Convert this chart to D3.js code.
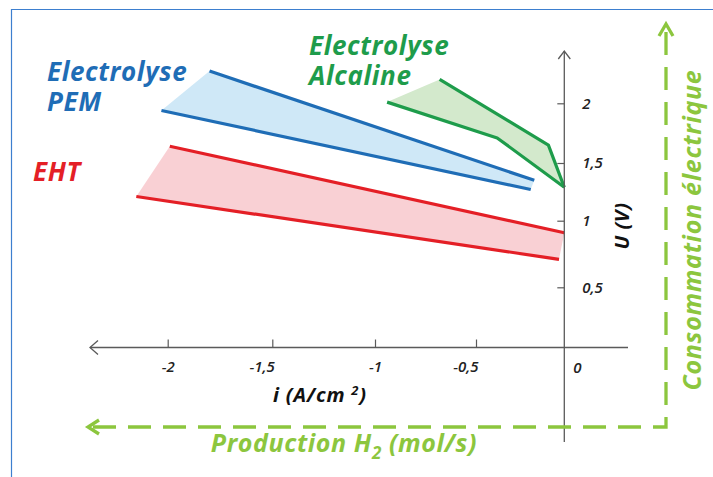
<!DOCTYPE html>
<html>
<head>
<meta charset="utf-8">
<script src="https://cdn.jsdelivr.net/npm/d3@7"></script>
<style>
  body { margin: 0; background: #fff; }
  svg text { font-family: "Open Sans", "DejaVu Sans", sans-serif; }
</style>
</head>
<body>
<svg id="chart" width="713" height="477"></svg>
<script>
// Axis ticks
const xTicks = [-2, -1.5, -1, -0.5];
const yTicks = [0.5, 1, 1.5, 2];

// Polarisation curves: [i (A/cm²), U (V)] — upper and lower bound of each technology
const pemUpper = [[-1.80, 2.27], [-0.17, 1.35]];
const pemLower = [[-2.03, 1.94], [-0.19, 1.27]];
const alcUpper = [[-0.68, 2.20], [-0.09, 1.65], [0, 1.29]];
const alcLower = [[-0.94, 2.01], [-0.38, 1.71], [0, 1.29]];
const ehtUpper = [[-1.99, 1.64], [0, 0.91]];
const ehtLower = [[-2.15, 1.21], [-0.03, 0.71]];

const techNames = ["Electrolyse PEM", "Electrolyse Alcaline", "EHT"];

const svg = d3.select("#chart");
const W = 713, H = 477;

// Hand-drawn axes are not evenly spaced: use piecewise linear scales through the ticks
const x = d3.scaleLinear()
  .domain([-2, -1.5, -1, -0.5, 0])
  .range([167.7, 272.3, 375, 476, 564.3]);
const y = d3.scaleLinear()
  .domain([0, 0.5, 1, 1.5, 2])
  .range([347.5, 287.3, 220.7, 163, 103.3]);

const x0 = x(0), y0 = y(0);
const fmt = d => String(d).replace(".", ",");

// Frame
svg.append("path")
  .attr("d", `M11.5,${H} L11.5,9.5 L${W},9.5`)
  .attr("fill", "none")
  .attr("stroke", "#3d7fcf")
  .attr("stroke-width", 1.2);

const line = d3.line().x(d => x(d[0])).y(d => y(d[1]));

function band(upper, lower, fill, stroke) {
  const poly = upper.concat(lower.slice().reverse());
  svg.append("path")
    .attr("d", line(poly) + "Z")
    .attr("fill", fill)
    .attr("stroke", "none");
  [upper, lower].forEach(s => {
    svg.append("path")
      .attr("d", line(s))
      .attr("fill", "none")
      .attr("stroke", stroke)
      .attr("stroke-width", 3.2)
      .attr("stroke-linejoin", "round");
  });
}

band(ehtUpper, ehtLower, "#f9d0d4", "#e41f26");
band(pemUpper, pemLower, "#cfe8f7", "#1f6db6");
band(alcUpper, alcLower, "#d3e9cc", "#1e9c4b");

// Axes
const axisColor = "#5a5a5a";
const gx = svg.append("g").attr("transform", `translate(0,${y0})`)
  .call(d3.axisBottom(x).tickValues(xTicks).tickSizeInner(-8).tickSizeOuter(0).tickPadding(14)
    .tickFormat(fmt));
gx.select(".domain").remove();
gx.selectAll("line").attr("stroke", axisColor).attr("stroke-width", 1.2);
gx.selectAll("text").attr("font-size", 15).attr("font-style", "italic").attr("font-weight", 600).attr("fill", "#222")
  // decimal labels sit to the left of their tick
  .attr("text-anchor", d => Number.isInteger(d) ? "middle" : "end")
  .attr("dx", d => Number.isInteger(d) ? 0 : 2);

const gy = svg.append("g").attr("transform", `translate(${x0},0)`)
  .call(d3.axisRight(y).tickValues(yTicks).tickSizeInner(-7).tickSizeOuter(0).tickPadding(18)
    .tickFormat(fmt));
gy.select(".domain").remove();
gy.selectAll("line").attr("stroke", axisColor).attr("stroke-width", 1.2);
gy.selectAll("text").attr("font-size", 15).attr("font-style", "italic").attr("font-weight", 600).attr("fill", "#222");

// Axis lines with open arrowheads
svg.append("line").attr("x1", 90).attr("x2", 628).attr("y1", y0).attr("y2", y0)
  .attr("stroke", axisColor).attr("stroke-width", 1.3);
svg.append("path").attr("d", `M98,${y0 - 7} L90,${y0} L98,${y0 + 7}`)
  .attr("fill", "none").attr("stroke", axisColor).attr("stroke-width", 1.3);
svg.append("line").attr("x1", x0).attr("x2", x0).attr("y1", 51).attr("y2", 442)
  .attr("stroke", axisColor).attr("stroke-width", 1.3);
svg.append("path").attr("d", `M${x0 - 6},${59} L${x0},${51} L${x0 + 6},${59}`)
  .attr("fill", "none").attr("stroke", axisColor).attr("stroke-width", 1.3);

svg.append("text").attr("x", x0 + 9).attr("y", y0 + 25)
  .attr("font-size", 15).attr("font-style", "italic").attr("font-weight", 600).attr("fill", "#222")
  .text("0");

// Axis titles
const it = svg.append("text").attr("x", 320).attr("y", 402).attr("text-anchor", "middle")
  .attr("font-size", 20).attr("letter-spacing", 0.8).attr("font-style", "italic").attr("font-weight", 700).attr("fill", "#111");
it.append("tspan").text("i (A/cm ");
it.append("tspan").attr("font-size", 13).attr("dy", -7).text("2");
it.append("tspan").attr("dy", 7).text(")");

svg.append("text").attr("transform", `translate(629,226) rotate(-90)`).attr("text-anchor", "middle")
  .attr("font-size", 20).attr("letter-spacing", 0.5).attr("font-style", "italic").attr("font-weight", 700).attr("fill", "#111")
  .text("U (V)");

// Green dashed production / consumption frame
const green = "#8cc63e";
svg.append("path")
  .attr("d", `M666,32 L666,427 L92,427`)
  .attr("fill", "none").attr("stroke", green).attr("stroke-width", 3.3)
  .attr("stroke-dasharray", "23,12");
svg.append("path").attr("d", `M659,36 L666,24 L673,36`)
  .attr("fill", "none").attr("stroke", green).attr("stroke-width", 3.3).attr("stroke-linejoin", "miter");
svg.append("path").attr("d", `M99,420 L88,427 L99,434`)
  .attr("fill", "none").attr("stroke", green).attr("stroke-width", 3.3);

const pt = svg.append("text").attr("x", 344).attr("y", 452).attr("text-anchor", "middle")
  .attr("font-size", 25).attr("letter-spacing", 0.6).attr("font-style", "italic").attr("font-weight", 700).attr("fill", green);
pt.append("tspan").text("Production H");
pt.append("tspan").attr("font-size", 17).attr("dy", 7).text("2");
pt.append("tspan").attr("dy", -7).text(" (mol/s)");

svg.append("text").attr("transform", `translate(701,230) rotate(-90)`).attr("text-anchor", "middle")
  .attr("font-size", 25).attr("letter-spacing", 0.7).attr("font-style", "italic").attr("font-weight", 700).attr("fill", green)
  .text("Consommation électrique");

// Technology labels
function label(lines, px, py, color) {
  const t = svg.append("text").attr("font-size", 26).attr("letter-spacing", 0.6).attr("font-style", "italic")
    .attr("font-weight", 700).attr("fill", color);
  lines.forEach((s, k) => t.append("tspan").attr("x", px).attr("y", py + k * 30).text(s));
}
label(["Electrolyse", "PEM"], 47, 81, "#1f6db6");
label(["Electrolyse", "Alcaline"], 309, 55, "#1e9c4b");
label([techNames[2]], 33, 181, "#e41f26");
</script>
</body>
</html>
